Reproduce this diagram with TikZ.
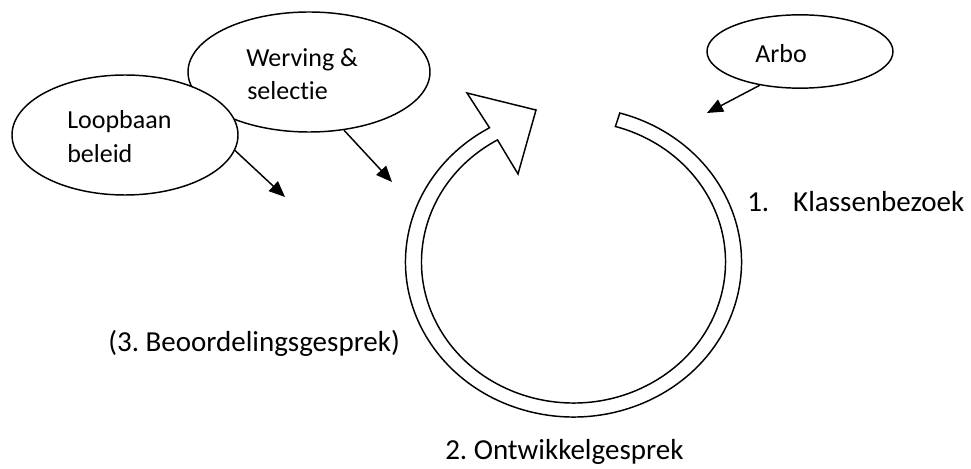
\documentclass[tikz,border=0pt]{standalone}
\usepackage{fontspec}
\setmainfont{Carlito}[Ligatures=NoCommon]
\usetikzlibrary{shapes.geometric,arrows.meta}
\frenchspacing
\tikzset{
  oval/.style={draw, fill=white, ellipse, line width=1.1pt, inner sep=0pt},
  intext/.style={anchor=base west, inner sep=0pt, font=\fontsize{19.5pt}{24pt}\selectfont},
  outtext/.style={anchor=base west, inner sep=0pt, font=\fontsize{21.75pt}{26pt}\selectfont},
  conn/.style={line width=1.1pt, -{Triangle[length=12pt,width=10pt]}},
  ring/.style={draw, line width=1.1pt, line join=miter}
}
\begin{document}
\begin{tikzpicture}[x=0.75pt,y=0.75pt]
\useasboundingbox (0,0) rectangle (971,468);
% ellipses
\node[oval, minimum width=181.5pt, minimum height=90pt] (wv) at (309,396) {};
\node[oval, minimum width=169.5pt, minimum height=90pt] (lb) at (125,333) {};
\node[oval, minimum width=139.5pt, minimum height=55pt] (ar) at (800,416.5) {};
% ellipse texts
\node[intext] (lbt1) at (67,339) {Loopbaan};
\node[intext] (lbt2) at (67,305) {beleid};
\node[intext] (wvt1) at (246,401) {Werving \&};
\node[intext] (wvt2) at (247,368) {selectie};
\node[intext] (art) at (755,405) {Arbo};
% free ends of connectors
\coordinate (lbe) at (285,271);
\coordinate (wve) at (392,286);
\coordinate (are) at (707,355);
\draw[conn] (lb.-8.6) -- (lbe);
\draw[conn] (wv.-59.5) -- (wve);
\draw[conn] (ar.-140) -- (are);
% circular arrow
\coordinate (C) at (573.5,206);
\draw[ring] (C) ++(74:126pt and 116.25pt)
  arc[start angle=74, end angle=-240, x radius=126pt, y radius=116.25pt]
  -- (467,375) -- (536,358) -- (518,294) -- (497.5,328.1)
  arc[start angle=120, end angle=434, x radius=114pt, y radius=105.75pt]
  -- cycle;
% labels
\node[outtext] (k1) at (747,256) {\makebox[34.5pt][l]{1.}Klassenbezoek};
\node[outtext] (k2) at (445,9) {2. Ontwikkelgesprek};
\node[outtext] (k3) at (108,117) {(3. Beoordelingsgesprek)};
\end{tikzpicture}
\end{document}
